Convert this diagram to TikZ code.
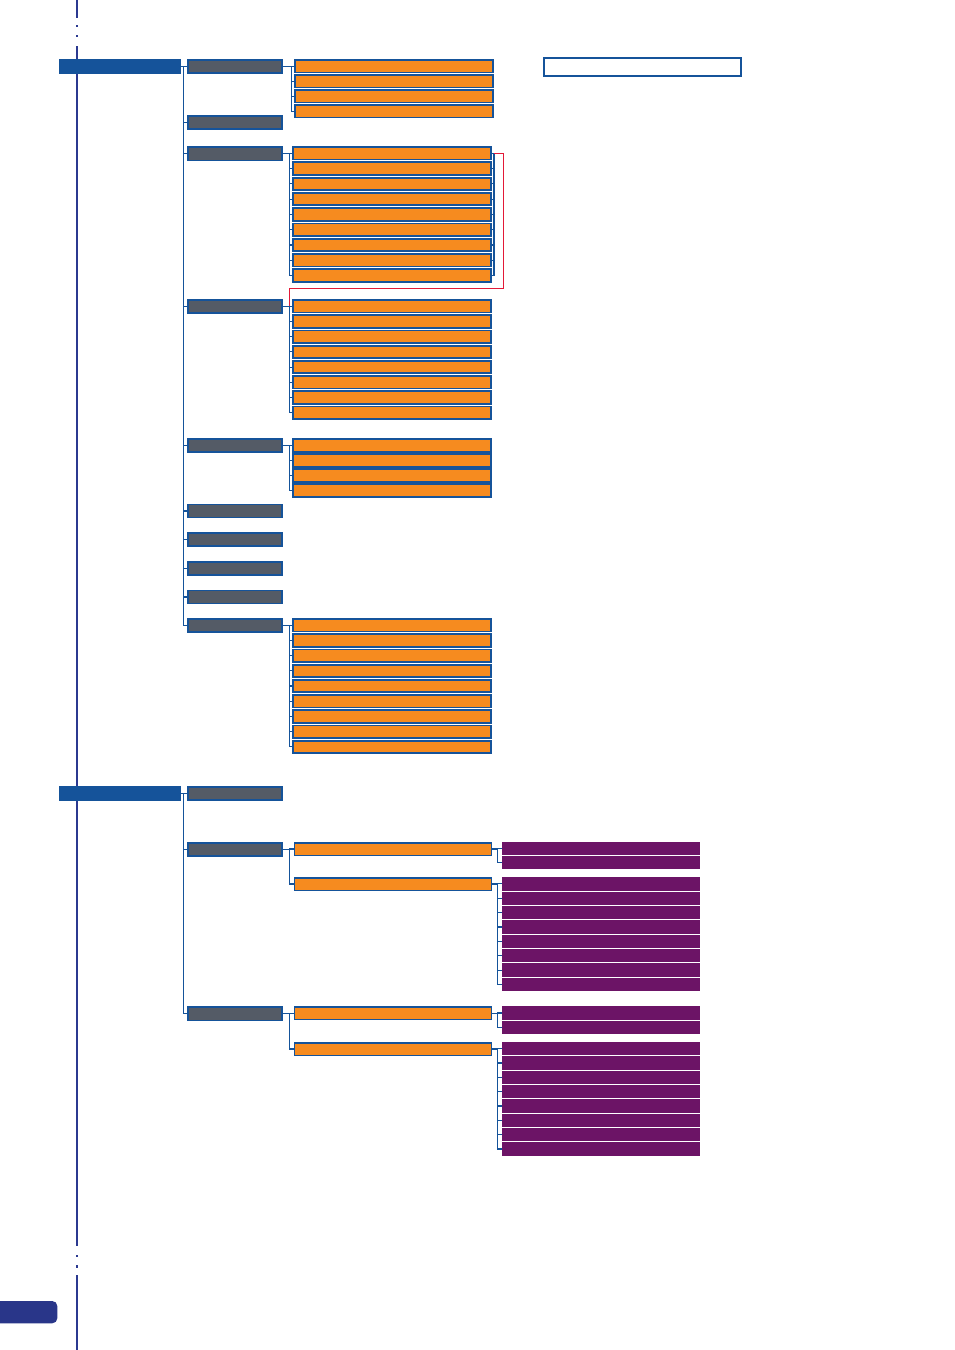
\documentclass[tikz,border=0pt]{standalone}
\usepackage{tikz}
\usetikzlibrary{calc,positioning}
\definecolor{navy}{RGB}{43,57,144}
\definecolor{rootblue}{RGB}{21,83,154}
\definecolor{slate}{RGB}{84,91,102}
\definecolor{tangerine}{RGB}{246,139,31}
\definecolor{plum}{RGB}{108,20,102}
\definecolor{linkred}{RGB}{227,25,55}

\begin{document}
\begin{tikzpicture}[x=1pt,y=-1pt,
    rootbox/.style={fill=rootblue,inner sep=0pt,minimum width=122pt,minimum height=14.7pt,anchor=west},
    greybox/.style={fill=slate,draw=rootblue,line width=1.6pt,inner sep=0pt,minimum width=93.9pt,minimum height=13.1pt,anchor=west},
    orangebox/.style={fill=tangerine,draw=rootblue,line width=1.8pt,inner sep=0pt,minimum width=198.2pt,minimum height=12.4pt,anchor=west},
    purplebox/.style={fill=plum,inner sep=0pt,minimum width=198pt,minimum height=13.3pt,anchor=west},
    notebox/.style={fill=white,draw=rootblue,line width=2pt,inner sep=0pt,minimum width=197pt,minimum height=18pt},
    conn/.style={draw=rootblue,line width=1.1pt},
    redlink/.style={draw=linkred,line width=1.5pt}]
  \useasboundingbox (0,0) rectangle (954,1350);

  \draw[navy,line width=2pt] (77,0) -- (77,17.5) (77,46) -- (77,1246) (77,1275) -- (77,1350);
  \foreach \y in {24.5,34.8,1254.5,1265}{
    \fill[navy] (76,\y) rectangle (78,{\y+2.5});
  }
  \fill[navy!95!black,rounded corners=5pt] (-8,1301) rectangle (57.3,1323.3);

  \node[notebox] (note) at (642.2,67.3) {};

  \node[rootbox] (root1) at (59,66.3) {};
  \foreach \n/\y in {1/66.3,2/122.3,3/153.8,4/306.3,5/445.5,6/511,7/539.5,8/568.3,9/597,10/625.3}{
    \node[greybox] (g\n) at (187,\y) {};
    \draw[conn] (root1.east) -- ++(2.3,0) |- (g\n.west);
  }
  \foreach \p/\n/\x/\y/\dy in {1/4/294/66.3/15.0,3/9/292/153.3/15.28,4/8/292/306.3/15.2,5/4/292/445.5/15.0,10/9/292/625.2/15.2}{
    \foreach \k in {1,...,\n}{
      \node[orangebox] (o\p-\k) at (\x,{\y+\dy*(\k-1)}) {};
      \draw[conn] (g\p.east) -| ([xshift=-2.6pt]o\p-\k.west) -- (o\p-\k.west);
    }
  }
  \foreach \k in {1,...,9}{
    \draw[conn] (o3-1.east) -- ++(2,0) |- (o3-\k.east);
  }
  \coordinate (b4) at ([xshift=-2.6pt]o4-1.west);
  \draw[redlink] ([xshift=2pt]o3-1.east) -- ++(9.5,0) |- ([yshift=18pt]b4) -- (b4);

  \node[rootbox] (root2) at (59,793.3) {};
  \foreach \n/\y in {1/793.3,2/849.3,3/1013.8}{
    \node[greybox] (h\n) at (187,\y) {};
    \draw[conn] (root2.east) -- ++(2.3,0) |- (h\n.west);
  }
  \foreach \m/\p/\y in {1/2/849,2/2/884,3/3/1013.3,4/3/1049}{
    \node[orangebox,line width=1.4pt,minimum width=197.1pt] (q\m) at (293.5,\y) {};
    \draw[conn] (h\p.east) -| ([xshift=-4.2pt]q\m.west) -- (q\m.west);
  }
  \foreach \m/\n/\y/\dy in {1/2/848.5/13.8,2/8/883.9/14.37,3/2/1013/14.4,4/8/1048.7/14.33}{
    \foreach \k in {1,...,\n}{
      \node[purplebox] (p\m-\k) at (502,{\y+\dy*(\k-1)}) {};
      \draw[conn] (q\m.east) -| ([xshift=-4.6pt]p\m-\k.west) -- (p\m-\k.west);
    }
  }
\end{tikzpicture}
\end{document}
